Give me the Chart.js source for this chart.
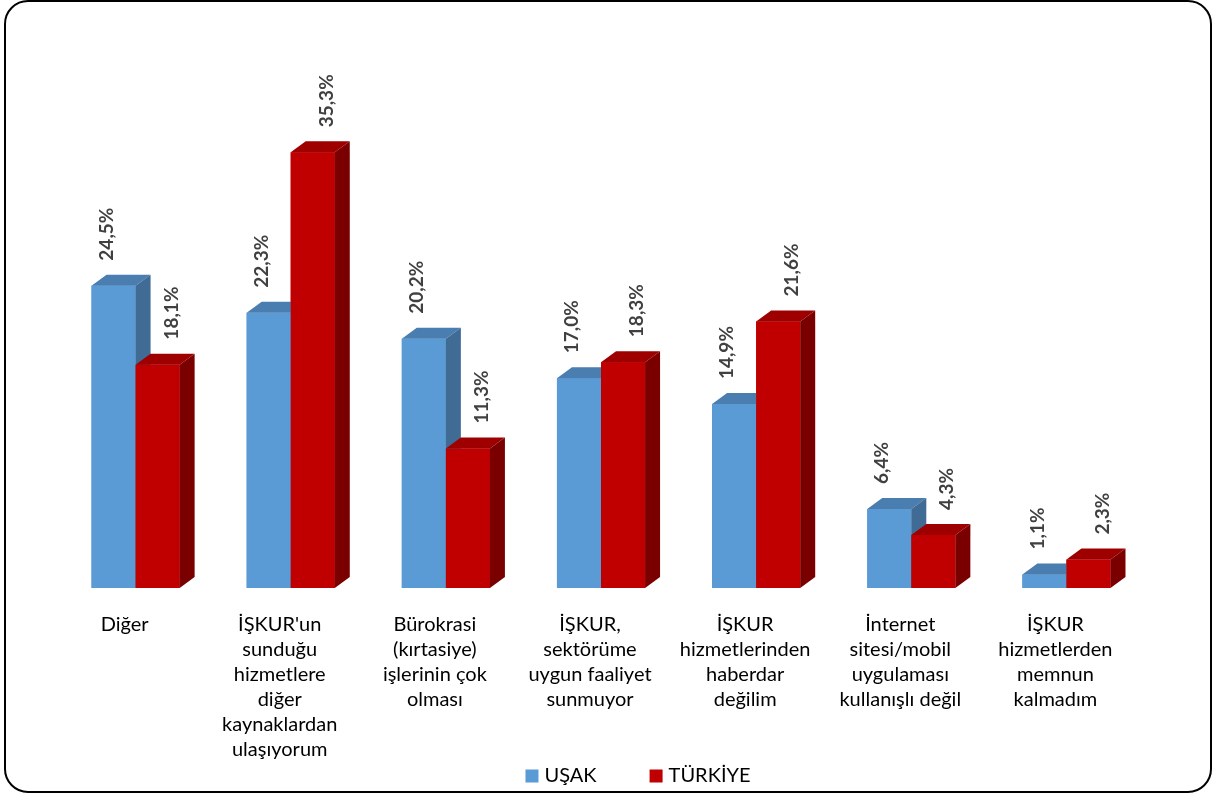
<!DOCTYPE html>
<html lang="tr">
<head>
<meta charset="UTF-8">
<title>İŞKUR hizmetleri - Uşak / Türkiye</title>
<script src="https://cdn.jsdelivr.net/npm/chart.js"></script>
<style>
  html, body { margin: 0; padding: 0; background: #fff; }
  .frame {
    position: absolute; left: 4px; top: 0px;
    width: 1204px; height: 789px;
    border: 2px solid #000; border-radius: 24px;
  }
  canvas { position: absolute; left: 0; top: 0; }
</style>
</head>
<body>
<div class="frame"></div>
<canvas id="chart" width="1215" height="796"></canvas>
<script>
const categories = [
  ['Diğer'],
  ["İŞKUR'un", 'sunduğu', 'hizmetlere', 'diğer', 'kaynaklardan', 'ulaşıyorum'],
  ['Bürokrasi', '(kırtasiye)', 'işlerinin çok', 'olması'],
  ['İŞKUR,', 'sektörüme', 'uygun faaliyet', 'sunmuyor'],
  ['İŞKUR', 'hizmetlerinden', 'haberdar', 'değilim'],
  ['İnternet', 'sitesi/mobil', 'uygulaması', 'kullanışlı değil'],
  ['İŞKUR', 'hizmetlerden', 'memnun', 'kalmadım']
];
const usakValues = [24.5, 22.3, 20.2, 17.0, 14.9, 6.4, 1.1];
const turkiyeValues = [18.1, 35.3, 11.3, 18.3, 21.6, 4.3, 2.3];
const seriesNames = ['UŞAK', 'TÜRKİYE'];

// colours for front / top / side faces of each series
const faces = [
  { front: '#5b9bd5', top: '#4a7db0', side: '#3f6b94' },
  { front: '#c00000', top: '#9e0000', side: '#7a0000' }
];
const DX = 15, DY = 11;        // depth of the fake 3d
const labelShift = [-7, 14];   // horizontal nudge of value labels per series

function poly(ctx, pts, color) {
  ctx.beginPath();
  ctx.moveTo(pts[0][0], pts[0][1]);
  for (let k = 1; k < pts.length; k++) ctx.lineTo(pts[k][0], pts[k][1]);
  ctx.closePath();
  ctx.fillStyle = color;
  ctx.fill();
}

const bar3d = {
  id: 'bar3d',
  afterDatasetsDraw(chart) {
    const ctx = chart.ctx;
    ctx.save();
    const n = chart.data.labels.length;
    for (let i = 0; i < n; i++) {
      chart.data.datasets.forEach((ds, d) => {
        const el = chart.getDatasetMeta(d).data[i];
        const l = el.x - el.width / 2, r = el.x + el.width / 2;
        const t = el.y, b = el.base;
        const c = faces[d];
        ctx.fillStyle = c.front;
        ctx.fillRect(l, t, r - l, b - t);
        poly(ctx, [[l, t], [l + DX, t - DY], [r + DX, t - DY], [r, t]], c.top);
        poly(ctx, [[r, t], [r + DX, t - DY], [r + DX, b - DY], [r, b]], c.side);
      });
    }
    // value labels, rotated
    ctx.font = 'bold 19px Lato';
    ctx.fillStyle = '#404040';
    ctx.textAlign = 'left';
    ctx.textBaseline = 'middle';
    chart.data.datasets.forEach((ds, d) => {
      chart.getDatasetMeta(d).data.forEach((el, i) => {
        const txt = ds.data[i].toFixed(1).replace('.', ',') + '%';
        ctx.save();
        ctx.translate(el.x + labelShift[d], el.y - DY - 14);
        ctx.rotate(-Math.PI / 2);
        ctx.fillText(txt, 0, 0);
        ctx.restore();
      });
    });
    ctx.restore();
  },
  afterDraw(chart) {
    // legend at the bottom
    const ctx = chart.ctx;
    ctx.save();
    ctx.font = '20px Lato';
    ctx.textBaseline = 'middle';
    ctx.textAlign = 'left';
    const box = 13, gap = 6, itemGap = 53;
    const items = chart.data.datasets.map(ds => ({ label: ds.label, color: ds.backgroundColor,
      w: box + gap + ctx.measureText(ds.label).width }));
    const total = items.reduce((s, it) => s + it.w, 0) + itemGap * (items.length - 1);
    let x = 638 - total / 2;
    const y = 776;
    items.forEach(it => {
      ctx.fillStyle = it.color;
      ctx.fillRect(x, y - box / 2, box, box);
      ctx.fillStyle = '#000';
      ctx.fillText(it.label, x + box + gap, y);
      x += it.w + itemGap;
    });
    ctx.restore();
  }
};

new Chart(document.getElementById('chart'), {
  type: 'bar',
  data: {
    labels: categories,
    datasets: [
      { label: seriesNames[0], data: usakValues, backgroundColor: faces[0].front },
      { label: seriesNames[1], data: turkiyeValues, backgroundColor: faces[1].front }
    ]
  },
  options: {
    responsive: false,
    animation: false,
    layout: { padding: { left: 58, right: 71, top: 45, bottom: 0 } },
    datasets: { bar: { barPercentage: 1, categoryPercentage: 0.568 } },
    scales: {
      x: {
        grid: { display: false },
        border: { display: false },
        afterFit: s => { s.height = 208; },
        ticks: {
          autoSkip: false,
          maxRotation: 0,
          padding: 16,
          labelOffset: -11,
          color: '#000',
          font: { family: 'Lato', size: 20, lineHeight: 1.25 }
        }
      },
      y: { display: false, min: 0, max: 44 }
    },
    plugins: {
      legend: { display: false },
      tooltip: { enabled: false }
    }
  },
  plugins: [bar3d]
});
</script>
</body>
</html>
